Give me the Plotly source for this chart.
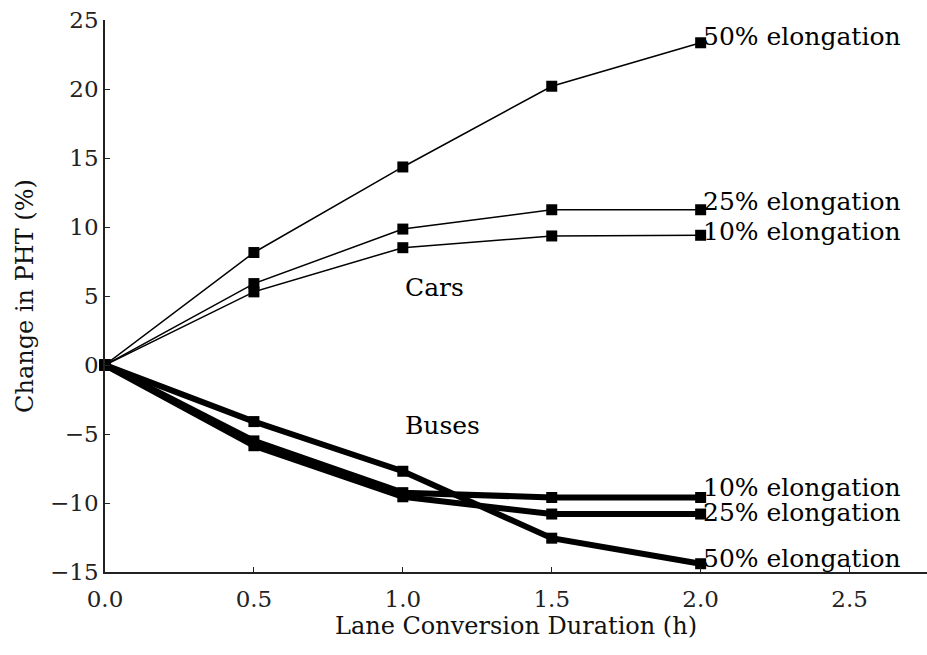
import plotly.graph_objects as go

# Lane conversion duration (h)
durations = [0.0, 0.5, 1.0, 1.5, 2.0]

# Change in person-hours travelled (%) for cars
cars_10 = [0.0, 5.3, 8.5, 9.35, 9.4]
cars_25 = [0.0, 5.9, 9.85, 11.25, 11.25]
cars_50 = [0.0, 8.15, 14.35, 20.2, 23.35]

# Change in person-hours travelled (%) for buses
buses_10 = [0.0, -5.5, -9.25, -9.6, -9.6]
buses_25 = [0.0, -5.85, -9.55, -10.8, -10.8]
buses_50 = [0.0, -4.1, -7.7, -12.55, -14.4]

series_labels = ["10% elongation", "25% elongation", "50% elongation"]
x_ticks = [0.0, 0.5, 1.0, 1.5, 2.0, 2.5]
y_ticks = [-15, -10, -5, 0, 5, 10, 15, 20, 25]

FONT = "DejaVu Serif"
fig = go.Figure()

groups = [
    ([cars_10, cars_25, cars_50], 1.5, 11, [4, 8, 6]),
    ([buses_10, buses_25, buses_50], 6, 11, [10, 2, 5]),
]
for series, lw, ms, shifts in groups:
    for vals, lab, sh in zip(series, series_labels, shifts):
        fig.add_trace(go.Scatter(
            x=durations, y=vals, mode="lines+markers",
            line=dict(color="black", width=lw),
            marker=dict(symbol="square", size=ms, color="black"),
            cliponaxis=False, showlegend=False,
        ))
        fig.add_annotation(
            x=durations[-1], y=vals[-1], text=lab, showarrow=False,
            xanchor="left", yanchor="middle", xshift=0, yshift=sh,
            font=dict(family=FONT, size=25, color="black"),
        )

fig.add_annotation(x=1.0, y=5.6, text="Cars", showarrow=False,
                   xanchor="left", yanchor="middle",
                   font=dict(family=FONT, size=25, color="black"))
fig.add_annotation(x=1.0, y=-4.4, text="Buses", showarrow=False,
                   xanchor="left", yanchor="middle",
                   font=dict(family=FONT, size=25, color="black"))

axis_common = dict(
    showgrid=False, zeroline=False, showline=True, linecolor="#222",
    linewidth=1.5, ticks="inside", ticklen=5, tickcolor="#222", tickwidth=1,
    tickfont=dict(family=FONT, size=23, color="#222"),
)
fig.update_xaxes(range=[0, 2.76], tickvals=x_ticks, ticktext=[f"{v:.1f}" for v in x_ticks],
                 ticklabelstandoff=6,
                 title=dict(text="Lane Conversion Duration (h)", standoff=6,
                            font=dict(family=FONT, size=24, color="#111")),
                 **axis_common)
fig.update_yaxes(range=[-15, 25], tickvals=y_ticks, ticktext=[str(v).replace("-", "\u2212") for v in y_ticks],
                 title=dict(text="Change in PHT (%)", standoff=10,
                            font=dict(family=FONT, size=24, color="#111")),
                 **axis_common)

fig.update_layout(
    width=927, height=655,
    margin=dict(l=105, r=0, t=20, b=83),
    plot_bgcolor="white", paper_bgcolor="white",
)

fig.write_html("out.html")
